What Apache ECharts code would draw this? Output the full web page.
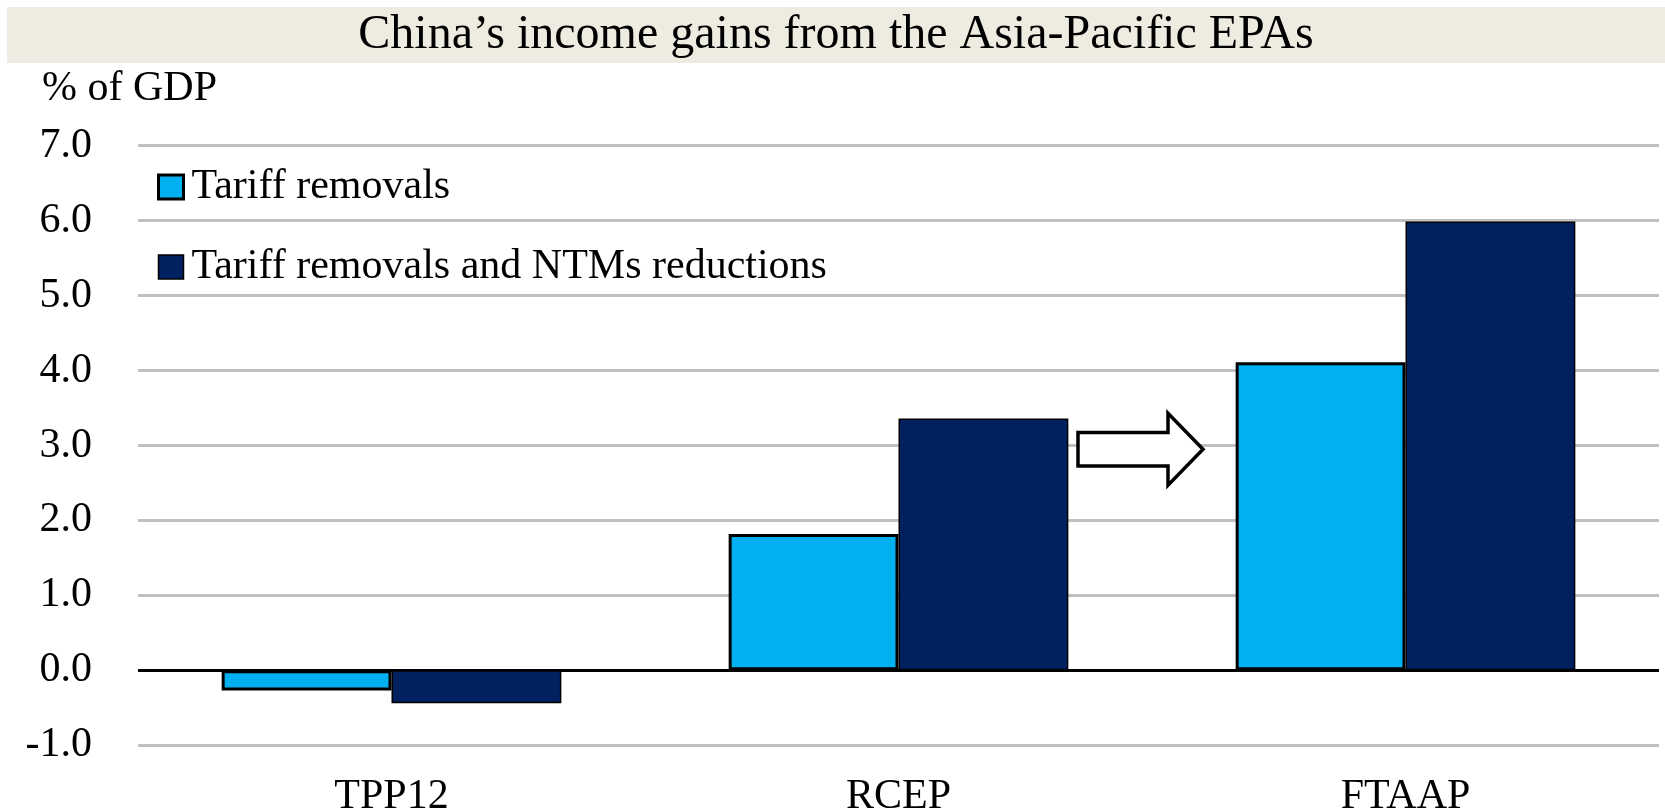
<!DOCTYPE html>
<html>
<head>
<meta charset="utf-8">
<script src="https://cdn.jsdelivr.net/npm/echarts@6/dist/echarts.min.js"></script>
<style>
  html, body { margin: 0; padding: 0; background: #ffffff; }
  #chart { width: 1665px; height: 812px; }
</style>
</head>
<body>
<div id="chart"></div>
<script>
// Agreements on the category axis
const categories = ['TPP12', 'RCEP', 'FTAAP'];
// Income gains, % of GDP
const tariffOnly = [-0.27, 1.82, 4.11];
const tariffAndNtm = [-0.44, 3.36, 5.99];
const seriesNames = ['Tariff removals', 'Tariff removals and NTMs reductions'];
const titleText = 'China\u2019s income gains from the Asia-Pacific EPAs';
const unitLabel = '% of GDP';
// Value axis range
const yMin = -1, yMax = 7, yStep = 1;

const FONT = '"Liberation Serif", "Times New Roman", serif';
const LIGHT = '#00B0F0';
const DARK = '#002060';
const GRID_GREY = '#bfbfbf';

// split-line colours: the zero line is black, the rest grey
const splitColors = [];
for (let v = yMin; v <= yMax; v += yStep) splitColors.push(v === 0 ? '#000000' : GRID_GREY);

const chart = echarts.init(document.getElementById('chart'), null, { renderer: 'canvas' });

const option = {
  backgroundColor: '#ffffff',
  animation: false,
  title: [
    {
      text: titleText,
      left: 836, top: 10, textAlign: 'center', padding: 0,
      textStyle: { fontFamily: FONT, fontSize: 48, fontWeight: 'normal', color: '#000', lineHeight: 50 }
    },
    {
      text: unitLabel,
      left: 42, top: 68, padding: 0,
      textStyle: { fontFamily: FONT, fontSize: 42, fontWeight: 'normal', color: '#000', lineHeight: 42 }
    }
  ],
  legend: {
    orient: 'vertical',
    left: 157, top: 165, padding: 0,
    itemWidth: 25, itemHeight: 24,
    itemGap: 36,
    textStyle: { fontFamily: FONT, fontSize: 42, color: '#000', lineHeight: 44, padding: [0, 0, 0, 3] },
    data: [
      { name: seriesNames[0], icon: 'rect', itemStyle: { color: LIGHT, borderColor: '#000', borderWidth: 3 } },
      { name: seriesNames[1], icon: 'rect', itemStyle: { color: DARK, borderColor: '#000', borderWidth: 1.5 } }
    ]
  },
  grid: { left: 138, right: 6, top: 145.7, bottom: 66.7, containLabel: false, outerBoundsMode: 'none' },
  xAxis: {
    type: 'category',
    data: categories,
    position: 'bottom',
    axisLine: { show: false, onZero: false },
    axisTick: { show: false },
    axisLabel: { fontFamily: FONT, fontSize: 42, color: '#000', lineHeight: 42, margin: 31 }
  },
  yAxis: {
    type: 'value',
    min: yMin, max: yMax, interval: yStep,
    axisLine: { show: false },
    axisTick: { show: false },
    axisLabel: {
      fontFamily: FONT, fontSize: 42, color: '#000', margin: 46,
      formatter: v => v.toFixed(1)
    },
    splitLine: { show: true, lineStyle: { color: splitColors, width: 3 } }
  },
  series: [
    {
      name: seriesNames[0], type: 'bar', data: tariffOnly,
      barGap: '0%', barCategoryGap: '33%',
      itemStyle: { color: LIGHT, borderColor: '#000', borderWidth: 3 }
    },
    {
      name: seriesNames[1], type: 'bar', data: tariffAndNtm,
      barGap: '0%', barCategoryGap: '33%',
      itemStyle: { color: DARK, borderColor: '#000', borderWidth: 1.5 }
    }
  ]
};

chart.setOption(option);

// Title band and the outlined block arrow between RCEP and FTAAP
function drawDecor() {
  const xR = chart.convertToPixel({ xAxisIndex: 0 }, 'RCEP');
  const xF = chart.convertToPixel({ xAxisIndex: 0 }, 'FTAAP');
  const mid = (xR + xF) / 2;
  const yc = chart.convertToPixel({ yAxisIndex: 0 }, 2.95);
  const x0 = mid - 74, xHead = mid + 16, xTip = mid + 51;
  const bodyH = 16.7, headH = 36;
  chart.setOption({
    graphic: [
      {
        type: 'rect', z: -10, silent: true,
        shape: { x: 7, y: 7, width: 1665 - 7, height: 56 },
        style: { fill: '#EEECE1' }
      },
      {
        type: 'polygon', z: 10, silent: true,
        shape: {
          points: [
            [x0, yc - bodyH], [xHead, yc - bodyH], [xHead, yc - headH],
            [xTip, yc], [xHead, yc + headH], [xHead, yc + bodyH], [x0, yc + bodyH]
          ]
        },
        style: { fill: '#ffffff', stroke: '#000000', lineWidth: 3.5, lineJoin: 'miter' }
      }
    ]
  });
}
drawDecor();
</script>
</body>
</html>
